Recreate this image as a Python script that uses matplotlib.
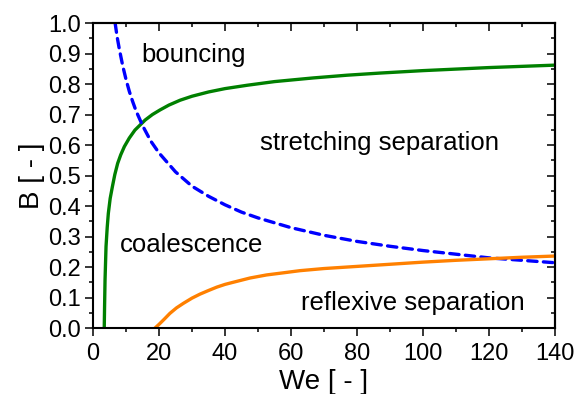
import matplotlib
matplotlib.use("Agg")
import matplotlib.pyplot as plt
from matplotlib.ticker import MultipleLocator, FormatStrFormatter

plt.rcParams['font.family'] = ['Liberation Sans', 'DejaVu Sans']

# stretching separation boundary (green)
we_stretch = [3.4, 3.5, 3.64, 3.94, 4.3, 4.64, 5.2, 5.86, 6.6, 7.47, 8.4, 9.5, 11, 12.7, 15.8,
              18, 20.3, 23, 26.4, 30, 35, 40, 46.7, 55, 66.7, 77, 87, 100, 110, 120, 130, 140]
b_stretch = [0.0, 0.07, 0.157, 0.267, 0.33, 0.376, 0.425, 0.463, 0.503, 0.540, 0.568, 0.595,
             0.623, 0.649, 0.682, 0.700, 0.715, 0.731, 0.747, 0.760, 0.774, 0.785, 0.796,
             0.808, 0.820, 0.829, 0.836, 0.844, 0.849, 0.854, 0.858, 0.862]

# bouncing boundary (blue dashed)
we_bounce = [6.7, 7.3, 8, 9, 10, 11, 12, 13, 15, 17.5, 20, 25, 30, 35, 40, 45, 50, 60, 70, 80,
             90, 100, 110, 120, 130, 140]
b_bounce = [1.0, 0.955, 0.913, 0.86, 0.815, 0.776, 0.743, 0.713, 0.664, 0.613, 0.574, 0.512,
            0.465, 0.432, 0.404, 0.38, 0.361, 0.329, 0.304, 0.284, 0.268, 0.254, 0.242, 0.230,
            0.222, 0.214]

# reflexive separation boundary (orange)
we_reflex = [18.8, 20, 21.5, 23.3, 25.3, 27.4, 30, 32.4, 35, 37.5, 40, 42.5, 47.6, 52.6, 57.7,
             62.7, 70, 80, 90, 100, 110, 120, 130, 140]
b_reflex = [0.0, 0.012, 0.028, 0.048, 0.066, 0.081, 0.098, 0.111, 0.123, 0.134, 0.143, 0.150,
            0.164, 0.174, 0.181, 0.188, 0.195, 0.202, 0.209, 0.216, 0.222, 0.227, 0.232, 0.236]

fig = plt.figure(figsize=(5.76, 3.94), dpi=100)
ax = fig.add_axes([0.1615, 0.1675, 0.802, 0.774])

ax.plot(we_stretch, b_stretch, color='#008000', lw=2.4)
ax.plot(we_bounce, b_bounce, color='#0000ff', lw=2.4, linestyle=(0, (2.8, 1.9)),
        dash_capstyle='round')
ax.plot(we_reflex, b_reflex, color='#ff8000', lw=2.4)

ax.text(30.6, 0.895, 'bouncing', fontsize=18.5, ha='center', va='center')
ax.text(86.7, 0.607, 'stretching separation', fontsize=18.5, ha='center', va='center')
ax.text(29.9, 0.272, 'coalescence', fontsize=18.5, ha='center', va='center')
ax.text(96.8, 0.082, 'reflexive separation', fontsize=18.5, ha='center', va='center')

ax.set_xlim(0, 140)
ax.set_ylim(0, 1.0)
ax.xaxis.set_major_locator(MultipleLocator(20))
ax.xaxis.set_minor_locator(MultipleLocator(10))
ax.yaxis.set_major_locator(MultipleLocator(0.1))
ax.yaxis.set_minor_locator(MultipleLocator(0.05))
ax.yaxis.set_major_formatter(FormatStrFormatter('%.1f'))

ax.tick_params(which='both', direction='out', labelsize=17, width=1.1, top=False, right=False)
ax.tick_params(which='major', length=6, pad=3)
ax.tick_params(axis='x', which='major', pad=5)
ax.tick_params(which='minor', length=3)

# inward ticks on top and right
sx = ax.secondary_xaxis('top')
sy = ax.secondary_yaxis('right')
sx.xaxis.set_major_locator(MultipleLocator(20))
sx.xaxis.set_minor_locator(MultipleLocator(10))
sy.yaxis.set_major_locator(MultipleLocator(0.1))
sy.yaxis.set_minor_locator(MultipleLocator(0.05))
for side_ax in [sx, sy]:
    side_ax.tick_params(which='both', direction='in', width=1.1, labeltop=False, labelright=False)
    side_ax.tick_params(which='major', length=6)
    side_ax.tick_params(which='minor', length=3)
    for s in side_ax.spines.values():
        s.set_linewidth(1.5)

for s in ax.spines.values():
    s.set_linewidth(1.5)

ax.set_xlabel('We [ - ]', fontsize=20, labelpad=3)
ax.set_ylabel('B [ - ]', fontsize=20, labelpad=2)

fig.savefig('out.png', dpi=100)
